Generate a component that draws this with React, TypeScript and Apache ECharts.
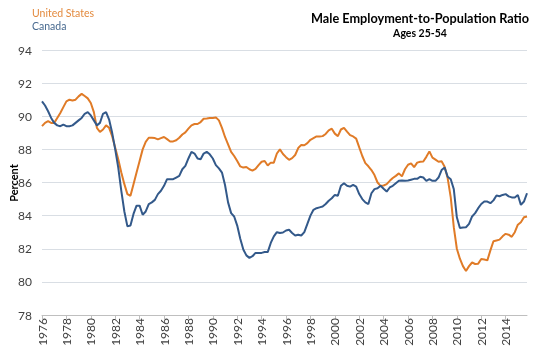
import React, { useEffect, useRef } from "react";
import * as echarts from "echarts";

const FONT = "Lato, 'Open Sans', sans-serif";

const startYear = 1976;
const stepYears = 0.25; // quarterly observations

const yMin = 78;
const yMax = 94;
const yStep = 2;
const xLabelStep = 2;

const seriesNames = ["United States", "Canada"];
const titleText = "Male Employment-to-Population Ratio";
const subtitleText = "Ages 25-54";
const yAxisTitle = "Percent";

const usValues = [
  89.4, 89.6, 89.7, 89.6,
  89.6, 89.9, 90.2, 90.55,
  90.9, 91.0, 90.95, 91.0,
  91.2, 91.35, 91.22, 91.08,
  90.8, 90.25, 89.3, 89.05,
  89.2, 89.45, 89.3, 88.8,
  88.1, 87.4, 86.6, 85.9,
  85.3, 85.2, 85.9, 86.6,
  87.3, 88.0, 88.45, 88.7,
  88.7, 88.68, 88.6, 88.68,
  88.75, 88.62, 88.48, 88.48,
  88.55, 88.7, 88.9, 89.03,
  89.25, 89.45, 89.53, 89.53,
  89.65, 89.85, 89.87, 89.9,
  89.9, 89.93, 89.75, 89.3,
  88.75, 88.3, 87.85, 87.6,
  87.3, 86.97, 86.9, 86.94,
  86.8, 86.72, 86.82, 87.05,
  87.25, 87.3, 87.03, 87.2,
  87.2, 87.75, 88.0, 87.72,
  87.53, 87.37, 87.47, 87.66,
  88.08, 88.27, 88.25, 88.38,
  88.58, 88.68, 88.78, 88.78,
  88.8, 88.93, 89.15, 89.25,
  88.95, 88.8, 89.2, 89.3,
  89.07, 88.86, 88.78, 88.65,
  88.12, 87.6, 87.17, 86.98,
  86.75, 86.45, 86.0, 85.8,
  85.82, 85.9, 86.1, 86.27,
  86.4, 86.55, 86.37, 86.8,
  87.07, 87.15, 86.93, 87.2,
  87.25, 87.27, 87.55, 87.88,
  87.5, 87.38, 87.25, 87.28,
  86.95, 86.25, 85.1, 83.3,
  82.0, 81.4, 80.95, 80.66,
  80.95, 81.17, 81.08, 81.1,
  81.38, 81.35, 81.3, 81.9,
  82.45, 82.5, 82.55, 82.75,
  82.9, 82.85, 82.72, 83.0,
  83.45, 83.6, 83.9, 83.95,
];

const canadaValues = [
  90.9, 90.65, 90.3, 89.9,
  89.6, 89.45, 89.4, 89.5,
  89.4, 89.4, 89.45, 89.6,
  89.75, 89.9, 90.15, 90.25,
  90.05, 89.75, 89.45, 89.6,
  90.15, 90.25, 89.8, 89.0,
  88.0, 86.9, 85.5, 84.25,
  83.35, 83.4, 84.1, 84.6,
  84.6, 84.05, 84.25, 84.7,
  84.8, 84.95, 85.3, 85.5,
  85.8, 86.2, 86.2, 86.2,
  86.3, 86.4, 86.8, 87.0,
  87.45, 87.85, 87.75, 87.45,
  87.4, 87.75, 87.85, 87.7,
  87.45, 87.05, 86.85, 86.6,
  85.85, 84.8, 84.15, 83.95,
  83.4, 82.6, 81.95, 81.6,
  81.45, 81.55, 81.75, 81.75,
  81.75, 81.8, 81.8, 82.35,
  82.75, 83.0, 82.95, 82.98,
  83.1, 83.15, 82.95, 82.8,
  82.85, 82.8, 83.0, 83.5,
  84.0, 84.35, 84.45, 84.5,
  84.55, 84.7, 84.9, 85.05,
  85.25, 85.2, 85.8, 85.95,
  85.8, 85.75, 85.85, 85.75,
  85.3, 85.0, 84.8, 84.7,
  85.35, 85.6, 85.65, 85.8,
  85.62, 85.45, 85.7, 85.8,
  85.95, 86.1, 86.12, 86.1,
  86.12, 86.17, 86.22, 86.22,
  86.35, 86.3, 86.1, 86.2,
  86.1, 86.1, 86.3, 86.75,
  86.9, 86.35, 86.2, 85.6,
  83.9, 83.25, 83.28, 83.3,
  83.5, 83.95, 84.15, 84.45,
  84.7, 84.85, 84.85, 84.75,
  84.92, 85.22, 85.17, 85.25,
  85.3, 85.16, 85.1, 85.1,
  85.25, 84.65, 84.85, 85.35,
];

const US_COLOR = "#E07B27";
const CA_COLOR = "#33598A";

export default function App() {
  const ref = useRef<HTMLDivElement>(null);

  useEffect(() => {
    if (!ref.current) return;
    const chart = echarts.init(ref.current, null, { renderer: "svg" });
    const toPairs = (vals: number[]) =>
      vals.map((v, i) => [startYear + i * stepYears, v]);
    const lastX = startYear + (usValues.length - 1) * stepYears;

    chart.setOption({
      animation: false,
      textStyle: { fontFamily: FONT },
      grid: { left: 42, right: 9, top: 50, bottom: 36 },
      xAxis: {
        type: "value",
        min: startYear,
        max: lastX,
        interval: xLabelStep,
        axisLine: { show: true, lineStyle: { color: "#BFBFBF", width: 1 } },
        axisTick: { show: true, length: 4, lineStyle: { color: "#BFBFBF" } },
        axisLabel: {
          rotate: 90,
          margin: 3,
          color: "#404040",
          fontSize: 12,
          fontFamily: FONT,
          showMaxLabel: false,
          formatter: (v: number) => (Number.isInteger(v) ? String(v) : ""),
        },
        splitLine: { show: false },
      },
      yAxis: {
        type: "value",
        min: yMin,
        max: yMax,
        interval: yStep,
        axisLine: { show: false },
        axisTick: { show: false },
        axisLabel: {
          margin: 10,
          color: "#404040",
          fontSize: 12,
          fontFamily: FONT,
        },
        splitLine: { show: true, lineStyle: { color: "#D9DEE4", width: 1 } },
      },
      series: [
        {
          name: seriesNames[0],
          type: "line",
          data: toPairs(usValues),
          showSymbol: false,
          symbol: "none",
          lineStyle: { color: US_COLOR, width: 2 },
          itemStyle: { color: US_COLOR },
        },
        {
          name: seriesNames[1],
          type: "line",
          data: toPairs(canadaValues),
          showSymbol: false,
          symbol: "none",
          lineStyle: { color: CA_COLOR, width: 2 },
          itemStyle: { color: CA_COLOR },
        },
      ],
      graphic: [
        {
          type: "text",
          left: 32,
          top: 7,
          style: { text: seriesNames[0], fill: "#E38A3E", font: `10.5px ${FONT}` },
        },
        {
          type: "text",
          left: 32,
          top: 20,
          style: { text: seriesNames[1], fill: "#47698F", font: `10.5px ${FONT}` },
        },
        {
          type: "text",
          x: 420,
          y: 18,
          style: {
            text: titleText,
            fill: "#000000",
            font: `bold 12.7px ${FONT}`,
            textAlign: "center",
            textVerticalAlign: "middle",
          },
        },
        {
          type: "text",
          x: 420,
          y: 33,
          style: {
            text: subtitleText,
            fill: "#000000",
            font: `bold 10.5px ${FONT}`,
            textAlign: "center",
            textVerticalAlign: "middle",
          },
        },
        {
          type: "text",
          x: 13,
          y: 183,
          rotation: Math.PI / 2,
          style: {
            text: yAxisTitle,
            fill: "#000000",
            font: `bold 11px ${FONT}`,
            textAlign: "center",
            textVerticalAlign: "middle",
          },
        },
      ],
    });

    return () => chart.dispose();
  }, []);

  return (
    <div
      ref={ref}
      style={{ position: "fixed", left: 0, top: 0, width: 536, height: 351 }}
    />
  );
}
